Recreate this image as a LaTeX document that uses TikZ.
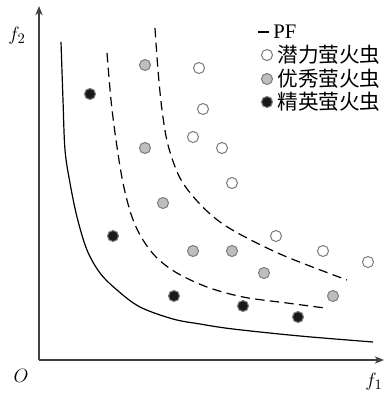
\documentclass[tikz,border=0pt]{standalone}
\usepackage{fontspec}
\setmainfont{Liberation Serif}
\newfontfamily\cjk{Noto Sans CJK SC}
\usepackage{tikz}
\usetikzlibrary{arrows.meta, positioning}
\definecolor{dotgray}{HTML}{BEBEBE}
\definecolor{rimgray}{HTML}{808080}
\definecolor{axisgray}{HTML}{404040}

\begin{document}
\begin{tikzpicture}[x=0.75pt, y=-0.75pt, >={Stealth[length=7pt, width=5.5pt]}, font=\fontsize{15.5}{18}\selectfont,
    potential/.style={circle, draw=rimgray, fill=white, line width=0.8pt, inner sep=0pt, minimum size=8.3pt},
    good/.style={circle, draw=rimgray, fill=dotgray, line width=0.8pt, inner sep=0pt, minimum size=8.3pt},
    elite/.style={circle, draw=rimgray, fill=black!90, line width=0.8pt, inner sep=0pt, minimum size=8.3pt},
    legendtext/.style={inner sep=0pt, anchor=west},
    front/.style={line width=0.9pt},
    layer/.style={line width=0.9pt, dash pattern=on 7pt off 4pt}]
    \useasboundingbox (0,0) rectangle (384,394);

    % Axes
    \coordinate (orig) at (39,360);
    \coordinate (ytip) at (39,6);
    \coordinate (xtip) at (384,360);
    \draw[->, axisgray, line width=0.8pt] (orig) -- (ytip);
    \draw[->, axisgray, line width=0.8pt] (orig) -- (xtip);
    \node (lblO) at (21,376) {$O$};
    \node (lblf2) at (17,36) {$f_2$};
    \node (lblf1) at (374,382) {$f_1$};

    % Pareto front
    \draw[front] plot[smooth, tension=0.55] coordinates {(61,42) (63,100) (65,150) (70,183) (77,217) (87,250) (100,273) (117,290) (140,307) (173,319) (200,324) (233,329) (300,336) (373,342)};

    % Layer boundaries
    \draw[layer] plot[smooth, tension=0.55] coordinates {(107,53) (111,100) (116,140) (123,183) (132,217) (143,240) (157,258) (177,273) (207,287) (243,297) (287,303) (325,308)};
    \draw[layer] plot[smooth, tension=0.55] coordinates {(155,28) (158,70) (162,110) (168,145) (180,178) (198,202) (220,222) (247,238) (287,257) (347,280)};

    % Elite fireflies
    \node[elite] (e1) at (90,94) {};
    \node[elite] (e2) at (113,236) {};
    \node[elite] (e3) at (174,296) {};
    \node[elite] (e4) at (243,306) {};
    \node[elite] (e5) at (298,317) {};

    % Good fireflies
    \node[good] (g1) at (145,65) {};
    \node[good] (g2) at (145,148) {};
    \node[good] (g3) at (163,203) {};
    \node[good] (g4) at (193,251) {};
    \node[good] (g5) at (232,251) {};
    \node[good] (g6) at (264,273) {};
    \node[good] (g7) at (333,296) {};

    % Potential fireflies
    \node[potential] (p1) at (199,68) {};
    \node[potential] (p2) at (203,109) {};
    \node[potential] (p3) at (193,137) {};
    \node[potential] (p4) at (222,148) {};
    \node[potential] (p5) at (232,183) {};
    \node[potential] (p6) at (276,236) {};
    \node[potential] (p7) at (323,251) {};
    \node[potential] (p8) at (368,262) {};

    % Legend
    \coordinate (pfa) at (258,32);
    \coordinate (pfb) at (269,32);
    \draw[line width=0.9pt] (pfa) -- (pfb);
    \node[legendtext, right=3pt of pfb] (txtpf) {PF};
    \node[potential] (legpot) at (267,55) {};
    \node[legendtext, right=3pt of legpot] (txtpot) {\cjk 潜力萤火虫};
    \node[good] (leggood) at (267,79) {};
    \node[legendtext, right=3pt of leggood] (txtgood) {\cjk 优秀萤火虫};
    \node[elite] (legelite) at (267,102) {};
    \node[legendtext, right=3pt of legelite] (txtelite) {\cjk 精英萤火虫};
\end{tikzpicture}
\end{document}
